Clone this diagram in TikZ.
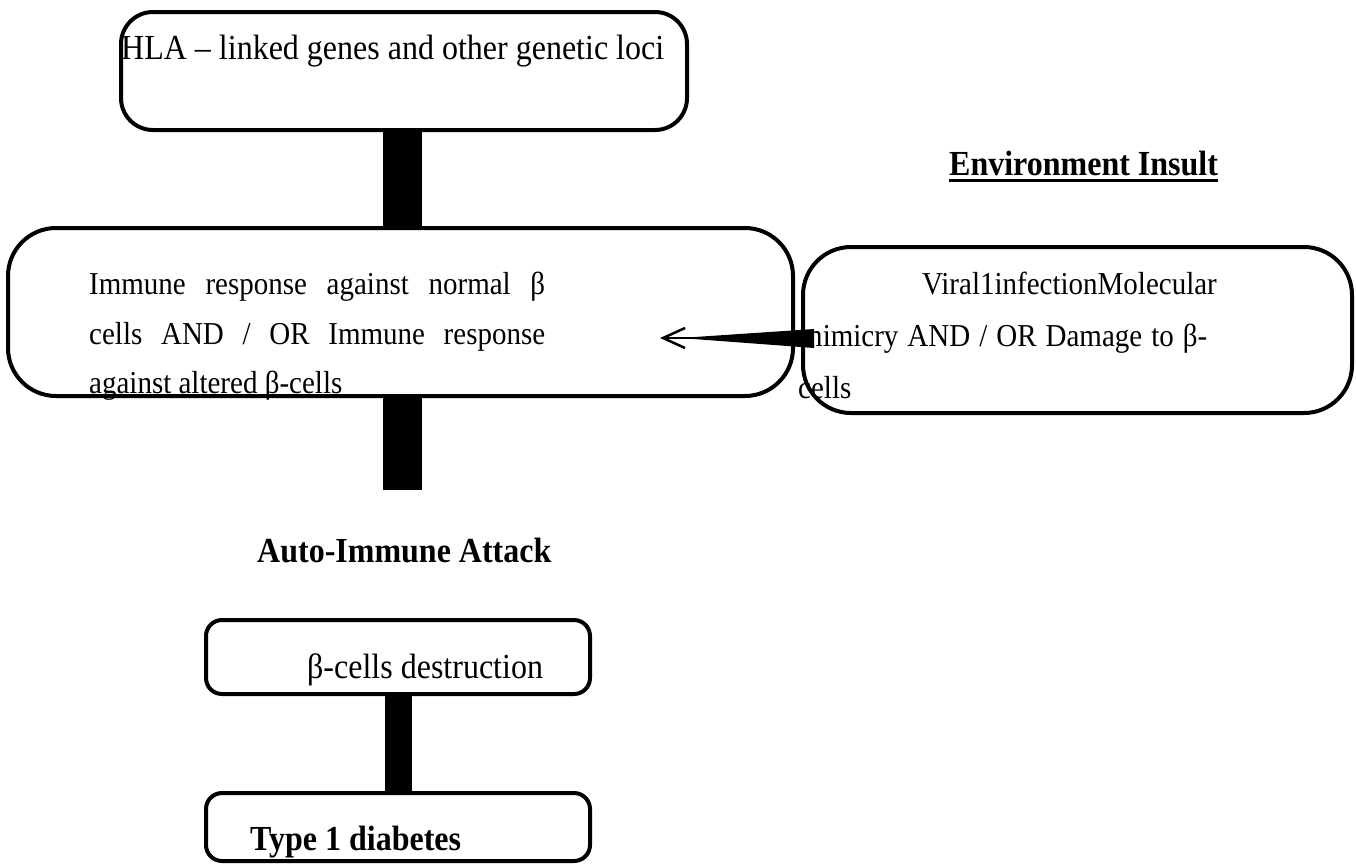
\documentclass[tikz,border=0pt]{standalone}
\usepackage{graphicx}
\usepackage{fontspec}
\setmainfont{Liberation Serif}
\usetikzlibrary{arrows.meta}
\newcommand{\talltxt}[1]{\scalebox{1}[1.1]{#1}}
\tikzset{
  box/.style={draw, line width=4pt, fill=white, inner sep=0pt, rectangle},
  bar/.style={line width=39pt, line cap=butt},
  body/.style={font=\fontsize{29}{35}\selectfont, inner sep=0pt, anchor=base west},
  big/.style={font=\fontsize{32}{38}\selectfont, inner sep=0pt, anchor=base west},
  bigb/.style={font=\fontsize{32}{38}\selectfont\bfseries, inner sep=0pt, anchor=base west},
}
\begin{document}
\begin{tikzpicture}[x=1pt,y=-1pt]
\useasboundingbox (0,0) rectangle (1356,865);
% box centres
\coordinate (hlaC) at (404,71);
\coordinate (immC) at (400.5,312);
\coordinate (virC) at (1077.5,330);
\coordinate (desC) at (398,657);
\coordinate (t1dC) at (398,827);
% bars
\coordinate (bx1) at (402.5,0);
\coordinate (b2end) at (402.5,490);
\coordinate (bx3) at (398,0);
\path (hlaC) node[minimum width=566pt, minimum height=118pt, inner sep=0pt] (hlaP) {};
\path (immC) node[minimum width=785pt, minimum height=168pt, inner sep=0pt] (immP) {};
\path (desC) node[minimum width=384pt, minimum height=74pt, inner sep=0pt] (desP) {};
\path (t1dC) node[minimum width=384pt, minimum height=68pt, inner sep=0pt] (t1dP) {};
\draw[bar] (hlaP.south -| bx1) -- (immP.north -| bx1);
\draw[bar] (immP.south -| b2end) -- (b2end);
\draw[bar, line width=27pt] (desP.south -| bx3) -- (t1dP.north -| bx3);
% boxes
\node[box, minimum width=566pt, minimum height=118pt, rounded corners=32pt] (hla) at (hlaC) {};
\node[box, minimum width=785pt, minimum height=168pt, rounded corners=48pt] (imm) at (immC) {};
\node[box, minimum width=549pt, minimum height=166pt, rounded corners=48pt] (vir) at (virC) {};
\node[box, minimum width=384pt, minimum height=74pt, rounded corners=16pt] (des) at (desC) {};
\node[box, minimum width=384pt, minimum height=68pt, rounded corners=16pt] (t1d) at (t1dC) {};
% texts
\node[big] (hlaT) at (121,59) {\talltxt{HLA – linked genes and other genetic loci}};
\node[body] (imm1) at (89,294) {\talltxt{\makebox[456pt][s]{Immune response against normal β}}};
\node[body] (imm2) at (89,344) {\talltxt{\makebox[456pt][s]{cells AND / OR Immune response}}};
\node[body] (imm3) at (89,393) {\talltxt{against altered β-cells}};
\node[body] (vir1) at (922,294) {\talltxt{Viral1infectionMolecular}};
\node[body] (vir2) at (800,346) {\talltxt{\makebox[407pt][s]{mimicry AND / OR Damage to β-}}};
\node[body] (vir3) at (798,398) {\talltxt{cells}};
\node[bigb] (env) at (949,175) {\talltxt{Environment Insult}};
\draw[line width=3pt] ([yshift=-5pt]env.base west) -- ([yshift=-5pt]env.base east);
\node[bigb] (auto) at (257,562) {\talltxt{Auto-Immune Attack}};
\node[big] (desT) at (307,678) {\talltxt{β-cells destruction}};
\node[bigb] (t1dT) at (250,850) {\talltxt{Type 1 diabetes}};
% arrow from environment box to immune box
\coordinate (src) at (814,338);
\coordinate (tip) at (660,338);
\fill ([yshift=-10pt]src) -- ([yshift=9pt]src) -- ([xshift=20pt]tip) -- cycle;
\draw[line width=2.5pt, -{Straight Barb[length=22pt,width=20pt]}] (src) -- (tip);
\end{tikzpicture}
\end{document}
